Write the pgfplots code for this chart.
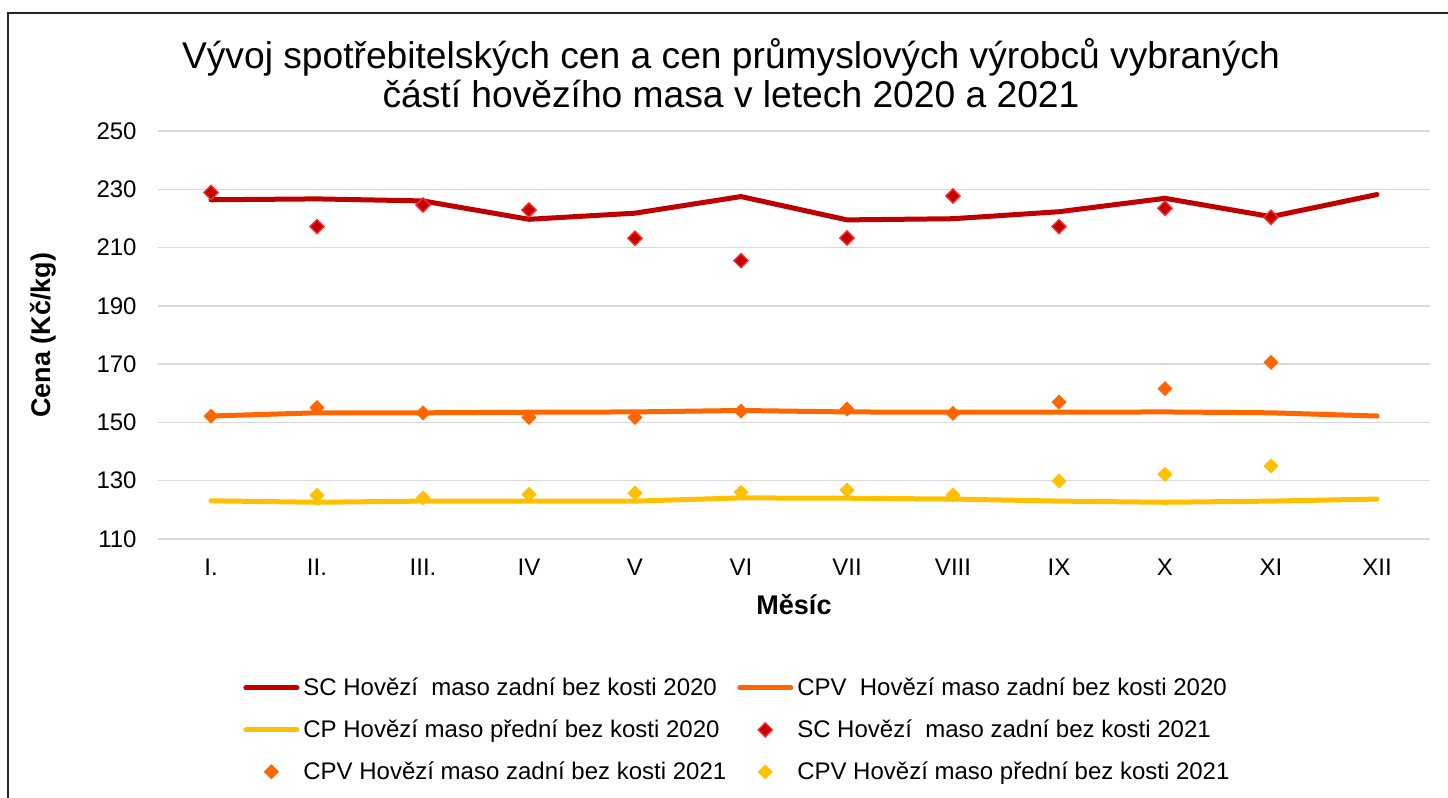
\documentclass[border=0pt]{standalone}
\usepackage{fontspec}
\setmainfont{Liberation Sans}
\usepackage{pgfplots}
\pgfplotsset{compat=1.18}
\definecolor{scred}{HTML}{C00000}
\definecolor{scredlight}{HTML}{FF2A2A}
\definecolor{cpvorange}{HTML}{FF6600}
\definecolor{cpyellow}{HTML}{FFC000}
\definecolor{gridgray}{HTML}{D9D9D9}
\pgfplotsset{
  linelegend/.style={legend image code/.code={\draw[##1] (1.25pt,1pt) -- (26.75pt,1pt); \path[draw=none,fill=none] (0pt,-5pt) rectangle (28pt,7pt);}},
  marklegend/.style={legend image code/.code={\draw[##1] plot coordinates {(14pt,1pt)}; \path[draw=none,fill=none] (0pt,-5pt) rectangle (28pt,7pt);}},
}
\begin{document}
\begin{tikzpicture}
\path[use as bounding box] (0pt,0pt) rectangle (724pt,399pt);
\draw[line width=1.1pt, black!85] (4.15pt,-2pt) -- (4.15pt,392.65pt) -- (726pt,392.65pt);
\node[anchor=base, font=\fontsize{18.6}{20}\selectfont] at (365.5pt,364.6pt) {Vývoj spotřebitelských cen a cen průmyslových výrobců vybraných};
\node[anchor=base, font=\fontsize{18.6}{20}\selectfont] at (365.5pt,345.2pt) {částí hovězího masa v letech 2020 a 2021};
\begin{axis}[
  at={(79pt,129.5pt)}, anchor=south west,
  scale only axis, width=636pt, height=204pt,
  xmin=-0.5, xmax=11.5, ymin=110, ymax=250,
  xtick={0,...,11},
  xticklabels={I.,II.,III.,IV,V,VI,VII,VIII,IX,X,XI,XII},
  ytick={110,130,...,250},
  axis line style={draw=none},
  major tick length=0pt,
  ymajorgrids, grid style={gridgray, line width=0.75pt},
  /pgf/number format/assume math mode=true,
  tick label style={font=\fontsize{12}{14}\selectfont},
  x tick label style={anchor=base, yshift=-18.3pt},
  y tick label style={anchor=east, inner sep=0pt, xshift=-10.5pt},
  xlabel={Měsíc},
  ylabel={Cena (Kč/kg)},
  every axis x label/.style={at={(axis description cs:0.5,-0.184)}, anchor=base, font=\bfseries\fontsize{13.5}{15}\selectfont},
  every axis y label/.style={at={(axis description cs:-0.0904,0.5)}, rotate=90, anchor=center, font=\bfseries\fontsize{13.5}{15}\selectfont},
  legend columns=2,
  legend cell align=left,
  legend style={at={(axis description cs:0.0668,-0.3344)}, anchor=north west, draw=none, fill=none,
    inner sep=0pt, font=\fontsize{12}{14}\selectfont, row sep=8pt,
    nodes={inner xsep=2pt, inner ysep=0pt, text height=9pt, text depth=3pt},
    /tikz/every even column/.append style={column sep=3.5pt}},
  clip=false,
]
\addplot[scred, line width=2.5pt, line cap=round, line join=round, linelegend]
  coordinates {(0,226.4) (1,226.7) (2,226.0) (3,219.7) (4,221.8) (5,227.5) (6,219.5) (7,219.9) (8,222.3) (9,226.9) (10,220.6) (11,228.2)};
\addlegendentry{SC Hovězí\ \ maso zadní bez kosti 2020}
\addplot[cpvorange, line width=2.5pt, line cap=round, line join=round, linelegend]
  coordinates {(0,152.2) (1,153.3) (2,153.3) (3,153.5) (4,153.6) (5,154.1) (6,153.6) (7,153.5) (8,153.5) (9,153.6) (10,153.3) (11,152.2)};
\addlegendentry{CPV\ \ Hovězí maso zadní bez kosti 2020}
\addplot[cpyellow, line width=2.5pt, line cap=round, line join=round, linelegend]
  coordinates {(0,123.1) (1,122.6) (2,123.0) (3,123.0) (4,123.0) (5,124.1) (6,124.0) (7,123.7) (8,123.0) (9,122.6) (10,123.0) (11,123.7)};
\addlegendentry{CP Hovězí maso přední bez kosti 2020}
\addplot[only marks, mark=square*, mark size=2.5pt,
  mark options={rotate=45, fill=scred, draw=scredlight, line width=0.7pt}, marklegend]
  coordinates {(0,228.9) (1,217.2) (2,224.6) (3,222.9) (4,213.2) (5,205.5) (6,213.3) (7,227.7) (8,217.2) (9,223.5) (10,220.4)};
\addlegendentry{SC Hovězí\ \ maso zadní bez kosti 2021}
\addplot[only marks, mark=square*, mark size=2.5pt,
  mark options={rotate=45, fill=cpvorange, draw=cpvorange, line width=0.3pt}, marklegend]
  coordinates {(0,152.2) (1,155.1) (2,153.3) (3,151.7) (4,151.7) (5,153.9) (6,154.6) (7,153.1) (8,157.0) (9,161.6) (10,170.6)};
\addlegendentry{CPV Hovězí maso zadní bez kosti 2021}
\addplot[only marks, mark=square*, mark size=2.5pt,
  mark options={rotate=45, fill=cpyellow, draw=cpyellow, line width=0.3pt}, marklegend]
  coordinates {(1,125.0) (2,124.1) (3,125.3) (4,125.7) (5,126.0) (6,126.8) (7,125.1) (8,129.9) (9,132.2) (10,135.1)};
\addlegendentry{CPV Hovězí maso přední bez kosti 2021}
\end{axis}
\end{tikzpicture}
\end{document}
